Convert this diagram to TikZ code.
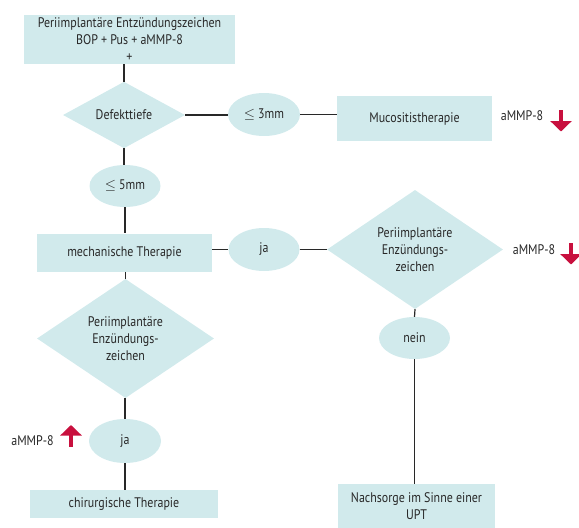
\documentclass[tikz,border=0pt]{standalone}
\usepackage{fontspec}
\setmainfont[FakeStretch=0.86]{PT Sans}
\usetikzlibrary{shapes.geometric,arrows.meta}
\definecolor{boxfill}{RGB}{209,234,236}
\definecolor{txt}{RGB}{40,40,40}
\definecolor{arrred}{RGB}{200,16,62}
\begin{document}
\begin{tikzpicture}[x=1pt,y=-1pt,
  every node/.style={text=txt,font=\fontsize{13.9}{17}\selectfont,align=center,inner sep=0pt},
  rbox/.style={rectangle,fill=boxfill},
  dbox/.style={diamond,fill=boxfill},
  ebox/.style={ellipse,fill=boxfill},
  conn/.style={draw=txt,line width=1.2pt},
  redarr/.style={draw=arrred,line width=3.3pt,-{Triangle[width=21pt,length=10.5pt]},arrred}
]
\useasboundingbox (0,0) rectangle (579,528);
% nodes
\node[rbox,minimum width=211pt,minimum height=49pt] (top) at (129.5,39.5)
  {Periimplantäre Entzündungszeichen\\BOP + Pus + aMMP-8\\+};
\node[dbox,minimum width=122pt,minimum height=64pt] (d1) at (124,115) {Defekttiefe};
\node[ebox,minimum width=72pt,minimum height=43pt] (e1) at (264,114.5) {$\leq$ 3mm};
\node[rbox,minimum width=155pt,minimum height=45pt] (muc) at (414.5,118.5) {Mucositistherapie};
\node (am1) at (522,116) {aMMP-8};
\node[ebox,minimum width=71pt,minimum height=42pt] (e2) at (125,186) {$\leq$ 5mm};
\node[rbox,minimum width=175pt,minimum height=38pt] (mech) at (124.5,252.5) {mechanische Therapie};
\node[ebox,minimum width=71pt,minimum height=43pt] (ja1) at (264,249.5) {ja};
\node[dbox,minimum width=176pt,minimum height=93pt] (d2) at (415,249.5)
  {Periimplantäre\\Enzündungs-\\zeichen};
\node (am2) at (534,250) {aMMP-8};
\node[ebox,minimum width=71pt,minimum height=42pt] (nein) at (414.5,338) {nein};
\node[rbox,minimum width=157pt,minimum height=44pt] (nach) at (416.5,506)
  {Nachsorge im Sinne einer\\UPT};
\node[dbox,minimum width=177pt,minimum height=93pt] (d3) at (125.5,338.5)
  {Periimplantäre\\Enzündungs-\\zeichen};
\node[ebox,minimum width=72pt,minimum height=44pt] (ja2) at (125,441) {ja};
\node (am3) at (32.5,441) {aMMP-8};
\node[rbox,minimum width=188pt,minimum height=28pt] (chir) at (124,504) {chirurgische Therapie};
% connectors
\draw[conn] (d1.north) -- (d1.north |- top.south);
\draw[conn] (d1.east) -- (d1.east -| e1.west);
\draw[conn] (e1.east) -- (e1.east -| muc.west);
\draw[conn] (d1.south) -- (d1.south |- e2.north);
\draw[conn] (e2.south) -- (e2.south |- mech.north);
\draw[conn] (mech.east |- ja1.west) -- (ja1.west);
\draw[conn] (ja1.east) -- (d2.west);
\draw[conn] (d2.south) -- (nein.north);
\draw[conn] (nein.south) -- (nein.south |- nach.north);
\draw[conn] (d3.north) -- (d3.north |- mech.south);
\draw[conn] (d3.south) -- (d3.south -| ja2.north) -- (ja2.north);
\draw[conn] (ja2.south) -- (ja2.south |- chir.north);
% red trend arrows
\draw[redarr] (561,110) -- (561,131.5);
\draw[redarr] (571,243) -- (571,264.5);
\draw[redarr] (71,446.5) -- (71,425);
\end{tikzpicture}
\end{document}
